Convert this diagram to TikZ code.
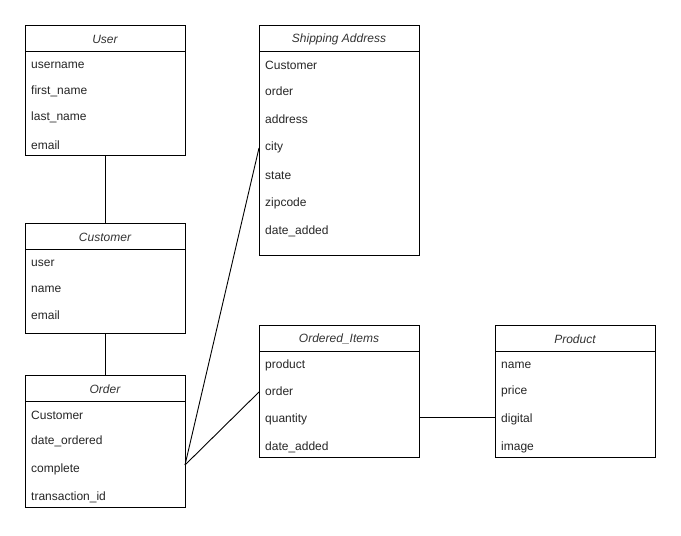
\documentclass[tikz,border=0pt]{standalone}
\usepackage{fontspec}
\setmainfont{Liberation Sans}
\begin{document}
\begin{tikzpicture}[x=1pt,y=-1pt,
  ent/.style={draw=black, line width=0.9pt, fill=white, inner sep=0pt, outer sep=0pt, minimum width=160pt, anchor=north west},
  ttl/.style={font=\fontsize{12}{14}\selectfont\itshape, text=black!80, inner sep=0pt, yshift=-1pt},
  row/.style={font=\fontsize{12}{14}\selectfont, text=black!85, anchor=west, inner sep=0pt, yshift=-1.5pt},
  sep/.style={draw=black, line width=0.9pt},
  conn/.style={draw=black, line width=0.9pt}]
\useasboundingbox (0,0) rectangle (681,536);
% User
\node[ent, minimum height=130pt] (user) at (25,25) {};
\draw[sep] ([yshift=-26pt]user.north west) -- ([yshift=-26pt]user.north east);
\node[ttl] (tuser) at ([yshift=-13pt]user.north) {User};
\node[row] (uusername) at (31,64) {username};
\node[row] (ufirst) at (31,90) {first\_name};
\node[row] (ulast) at (31,116) {last\_name};
\node[row] (uemail) at (31,144) {email};
% Customer
\node[ent, minimum height=110pt] (cust) at (25,223) {};
\draw[sep] ([yshift=-26pt]cust.north west) -- ([yshift=-26pt]cust.north east);
\node[ttl] (tcust) at ([yshift=-13pt]cust.north) {Customer};
\node[row] (cuser) at (31,262) {user};
\node[row] (cname) at (31,288) {name};
\node[row] (cemail) at (31,314) {email};
% Order
\node[ent, minimum height=132pt] (order) at (25,375) {};
\draw[sep] ([yshift=-26pt]order.north west) -- ([yshift=-26pt]order.north east);
\node[ttl] (torder) at ([yshift=-13pt]order.north) {Order};
\node[row] (ocust) at (31,414) {Customer};
\node[row] (odate) at (31,440) {date\_ordered};
\node[row] (ocomplete) at (31,468) {complete};
\node[row] (otrans) at (31,496) {transaction\_id};
% Shipping Address
\node[ent, minimum height=230pt] (ship) at (259,25) {};
\draw[sep] ([yshift=-26pt]ship.north west) -- ([yshift=-26pt]ship.north east);
\node[ttl] (tship) at ([yshift=-13pt]ship.north) {Shipping Address};
\node[row] (scust) at (265,64) {Customer};
\node[row] (sorder) at (265,90) {order};
\node[row] (saddr) at (265,118) {address};
\node[row] (scity) at (265,146) {city};
\node[row] (sstate) at (265,174) {state};
\node[row] (szip) at (265,202) {zipcode};
\node[row] (sdate) at (265,230) {date\_added};
% Ordered_Items
\node[ent, minimum height=132pt] (items) at (259,325) {};
\draw[sep] ([yshift=-26pt]items.north west) -- ([yshift=-26pt]items.north east);
\node[ttl] (titems) at ([yshift=-13pt]items.north) {Ordered\_Items};
\node[row] (iprod) at (265,364) {product};
\node[row] (iorder) at (265,390) {order};
\node[row] (iqty) at (265,418) {quantity};
\node[row] (idate) at (265,446) {date\_added};
% Product
\node[ent, minimum height=132pt] (prod) at (495,325) {};
\draw[sep] ([yshift=-26pt]prod.north west) -- ([yshift=-26pt]prod.north east);
\node[ttl] (tprod) at ([yshift=-13pt]prod.north) {Product};
\node[row] (pname) at (501,364) {name};
\node[row] (pprice) at (501,390) {price};
\node[row] (pdigital) at (501,418) {digital};
\node[row] (pimage) at (501,446) {image};
% connectors
\coordinate (oj) at ([yshift=-90pt]order.north east);
\coordinate (sj) at ([yshift=-123pt]ship.north west);
\coordinate (ij) at ([yshift=-67pt]items.north west);
\coordinate (qj) at ([yshift=-92pt]items.north east);
\coordinate (pj) at ([yshift=-92pt]prod.north west);
\draw[conn] (user.south) -- (cust.north);
\draw[conn] (cust.south) -- (order.north);
\draw[conn] (oj) -- (sj);
\draw[conn] (oj) -- (ij);
\draw[conn] (qj) -- (pj);
\end{tikzpicture}
\end{document}
